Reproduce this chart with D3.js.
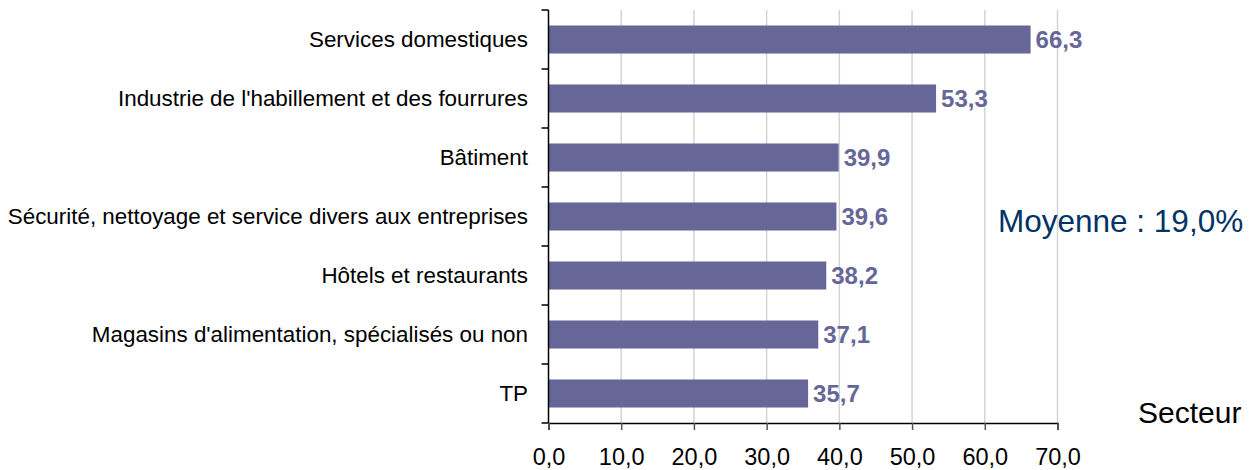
<!DOCTYPE html>
<html>
<head>
<meta charset="utf-8">
<script src="https://cdn.jsdelivr.net/npm/d3@7.9.0/dist/d3.min.js"></script>
<style>
  body { margin: 0; background: #fff; }
  svg { display: block; font-family: "Liberation Sans", Arial, sans-serif; }
</style>
</head>
<body>
<svg width="1249" height="470"></svg>
<script>
// Chart data
const categories = [
  "Services domestiques",
  "Industrie de l'habillement et des fourrures",
  "Bâtiment",
  "Sécurité, nettoyage et service divers aux entreprises",
  "Hôtels et restaurants",
  "Magasins d'alimentation, spécialisés ou non",
  "TP"
];
const values = [66.3, 53.3, 39.9, 39.6, 38.2, 37.1, 35.7];
const xTicks = [0, 10, 20, 30, 40, 50, 60, 70];
const avgLabel = "Moyenne : 19,0%";
const axisTitle = "Secteur";

const fmt = (v) => v.toFixed(1).replace('.', ',');

const svg = d3.select('svg');

const x = d3.scaleLinear().domain([0, 70]).range([548.5, 1057.5]);
const y = d3.scaleBand().domain(categories).range([10, 423]).padding(0);
const barH = y.bandwidth() * 0.475;

// gridlines
svg.append('g')
  .selectAll('line')
  .data(xTicks.slice(1))
  .join('line')
  .attr('x1', (d) => x(d)).attr('x2', (d) => x(d))
  .attr('y1', 10).attr('y2', 423)
  .attr('stroke', '#d4d4d4')
  .attr('stroke-width', 1.5);

// bars
svg.append('g')
  .selectAll('rect')
  .data(values)
  .join('rect')
  .attr('x', x(0))
  .attr('y', (d, i) => y(categories[i]) + (y.bandwidth() - barH) / 2)
  .attr('width', (d) => x(d) - x(0))
  .attr('height', barH)
  .attr('fill', '#666699');

// value labels
svg.append('g')
  .selectAll('text')
  .data(values)
  .join('text')
  .attr('x', (d) => x(d) + 5)
  .attr('y', (d, i) => y(categories[i]) + y.bandwidth() / 2)
  .attr('dy', '0.35em')
  .attr('font-size', 24)
  .attr('font-weight', 'bold')
  .attr('fill', '#666699')
  .text(fmt);

// category labels
svg.append('g')
  .selectAll('text')
  .data(categories)
  .join('text')
  .attr('x', 528)
  .attr('y', (d) => y(d) + y.bandwidth() / 2)
  .attr('dy', '0.35em')
  .attr('text-anchor', 'end')
  .attr('font-size', 22.4)
  .attr('fill', '#000')
  .text((d) => d);

// left axis line + ticks at band edges
const edges = categories.map((c) => y(c)).concat([y.range()[1]]);
svg.append('line')
  .attr('x1', x(0)).attr('x2', x(0))
  .attr('y1', 10).attr('y2', 423)
  .attr('stroke', '#000').attr('stroke-width', 1.5);
svg.append('g')
  .selectAll('line')
  .data(edges)
  .join('line')
  .attr('x1', x(0) - 7).attr('x2', x(0))
  .attr('y1', (d) => d).attr('y2', (d) => d)
  .attr('stroke', '#000').attr('stroke-width', 1.5);

// bottom axis
const xAxis = d3.axisBottom(x).tickValues(xTicks).tickFormat(fmt).tickSize(7).tickPadding(18);
const gx = svg.append('g').attr('transform', 'translate(0,423)').call(xAxis);
gx.select('.domain').attr('stroke', '#000').attr('stroke-width', 1.5);
gx.selectAll('.tick line').attr('stroke', '#555').attr('stroke-width', 1.5);
gx.selectAll('.tick text')
  .attr('font-size', 23.5)
  .attr('font-family', '"Liberation Sans", Arial, sans-serif')
  .attr('fill', '#000');

// annotation
svg.append('text')
  .attr('x', 998).attr('y', 232)
  .attr('font-size', 31.5)
  .attr('fill', '#003366')
  .text(avgLabel);

svg.append('text')
  .attr('x', 1138).attr('y', 423)
  .attr('font-size', 30)
  .attr('fill', '#000')
  .text(axisTitle);
</script>
</body>
</html>
